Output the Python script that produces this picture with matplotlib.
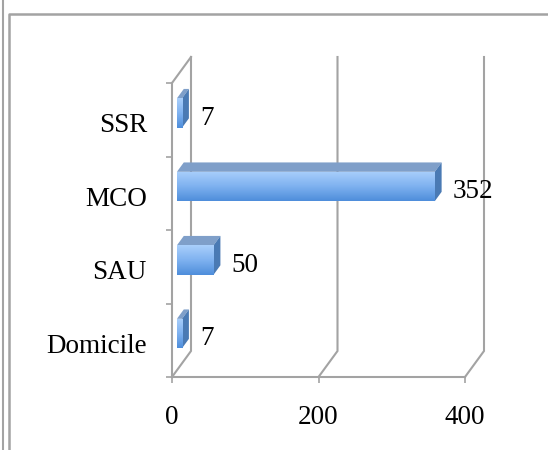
import numpy as np
import matplotlib
matplotlib.use("Agg")
from matplotlib import pyplot as plt
from matplotlib.patches import Polygon, Rectangle
from matplotlib.lines import Line2D
from matplotlib.colors import LinearSegmentedColormap
import matplotlib.transforms as mtransforms

# data
categories = ["Domicile", "SAU", "MCO", "SSR"]
values = [7, 50, 352, 7]
xticks = [0, 200, 400]

plt.rcParams['font.family'] = ['Liberation Serif', 'DejaVu Serif']
grey = '#a3a3a3'
fsize = 19.5

fig = plt.figure(figsize=(5.48, 4.5), dpi=100)
ax = fig.add_axes([172 / 548, 73 / 450, 293 / 548, 294 / 450])
ax.set_xlim(0, 400)
ax.set_ylim(-0.5, len(categories) - 0.5)

# 3d depth offset, in data units
DX = 19 / 293 * 400
DY = 26 / 73.5
f0, f1 = 0.26, 0.62
h = 0.2

ytop = len(categories) - 0.5
# back wall gridlines + floor diagonals
for xv in xticks:
    ax.plot([xv, xv + DX, xv + DX], [-0.5, -0.5 + DY, ytop + DY], color=grey, lw=1.5,
            clip_on=False, solid_joinstyle='miter')
# left wall top edge
ax.plot([0, DX], [ytop, ytop + DY], color=grey, lw=1.5, clip_on=False)

front_cmap = LinearSegmentedColormap.from_list('front', ['#4f8edb', '#7fb2f0', '#a9cffb'])
end_cmap = LinearSegmentedColormap.from_list('end', ['#3a69a3', '#5a8ac4'])

for i, v in enumerate(values):
    ox, oy = f0 * DX, f0 * DY
    bx, by = f1 * DX, f1 * DY
    y0, y1 = i - h + oy, i + h + oy
    x0, x1 = ox, v + ox
    # top face
    top = Polygon([[x0, y1], [x1, y1], [v + bx, i + h + by], [bx, i + h + by]],
                  closed=True, facecolor='#7f9fc9', edgecolor='none', clip_on=False, zorder=3)
    ax.add_patch(top)
    # end face
    end = Polygon([[x1, y0], [x1, y1], [v + bx, i + h + by], [v + bx, i - h + by]],
                  closed=True, facecolor='#4a7ab4', edgecolor='none', clip_on=False, zorder=3)
    ax.add_patch(end)
    # front face with vertical gradient
    rect = Rectangle((x0, y0), x1 - x0, y1 - y0, facecolor='none', edgecolor='none', zorder=4)
    ax.add_patch(rect)
    im = ax.imshow(np.linspace(0, 1, 50).reshape(-1, 1), cmap=front_cmap, aspect='auto',
                   origin='lower', extent=(x0, x1, y0, y1), zorder=4)
    im.set_clip_path(rect)
    ax.annotate(str(v), xy=(x1, i), xytext=(13, 1), textcoords='offset points',
                ha='left', va='center', fontsize=fsize, color='black')

ax.set_xlim(0, 400)
ax.set_ylim(-0.5, len(categories) - 0.5)

ax.set_yticks(range(len(categories)))
ax.set_yticklabels(categories)
ax.set_yticks(np.arange(-0.5, len(categories), 1), minor=True)
ax.tick_params(axis='y', which='major', length=0, pad=18, labelsize=fsize)
ax.tick_params(axis='y', which='minor', length=4.3, width=1.2, color=grey)
ax.set_xticks(xticks)
ax.tick_params(axis='x', length=4.3, width=1.2, color=grey, pad=16, labelsize=fsize)
for lab in ax.get_yticklabels():
    lab.set_transform(lab.get_transform() + mtransforms.ScaledTranslation(0, -3 / 100, fig.dpi_scale_trans))

for s in ['top', 'right']:
    ax.spines[s].set_visible(False)
for s in ['left', 'bottom']:
    ax.spines[s].set_color(grey)
    ax.spines[s].set_linewidth(1.5)
ax.patch.set_visible(False)

# outer frames
fig.add_artist(Line2D([2.5 / 548, 2.5 / 548], [0, 1], color=grey, lw=1.5))
fig.add_artist(Line2D([8.5 / 548, 8.5 / 548, 1], [0, 1 - 13.5 / 450, 1 - 13.5 / 450], color=grey, lw=1.8))

fig.savefig('out.png', dpi=100)
